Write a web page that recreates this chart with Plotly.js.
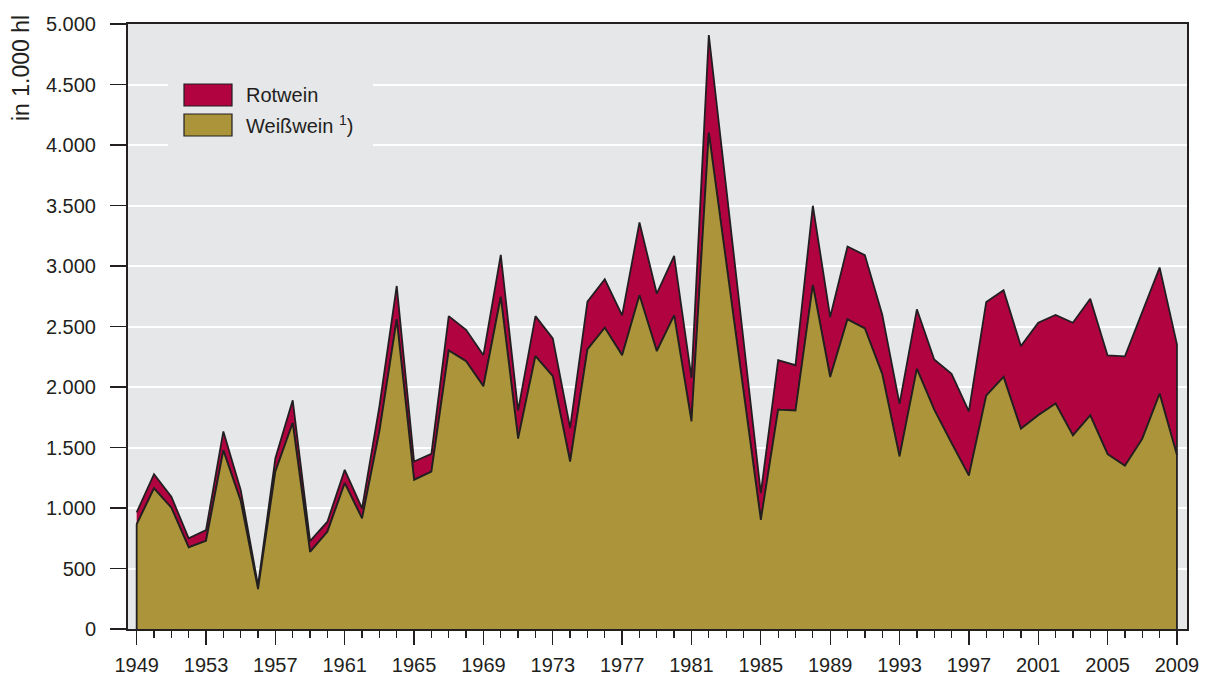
<!DOCTYPE html>
<html>
<head>
<meta charset="utf-8">
<script src="https://cdn.plot.ly/plotly-3.0.1.min.js"></script>
<style>html,body{margin:0;padding:0;background:#fff;}</style>
</head>
<body>
<div id="chart" style="width:1205px;height:677px;"></div>
<script>
// Years
const years = [1949,1950,1951,1952,1953,1954,1955,1956,1957,1958,1959,1960,1961,1962,1963,1964,1965,1966,1967,1968,1969,1970,1971,1972,1973,1974,1975,1976,1977,1978,1979,1980,1981,1982,1983,1984,1985,1986,1987,1988,1989,1990,1991,1992,1993,1994,1995,1996,1997,1998,1999,2000,2001,2002,2003,2004,2005,2006,2007,2008,2009];
// Weißwein (in 1.000 hl)
const weisswein = [865,1163,1003,674,729,1476,1058,330,1302,1702,638,804,1205,914,1633,2559,1233,1301,2302,2213,2006,2744,1573,2255,2089,1384,2310,2490,2263,2758,2296,2592,1716,4101,3030,1965,901,1813,1805,2843,2083,2559,2484,2108,1426,2150,1813,1536,1268,1929,2083,1655,1766,1863,1600,1766,1445,1350,1571,1944,1437];
// Rotwein (in 1.000 hl)
const rotwein = [99,116,91,75,89,157,92,30,110,188,89,83,111,83,207,276,151,147,284,260,257,348,232,331,313,277,395,400,329,602,475,492,359,807,620,425,221,409,375,655,495,602,606,492,434,492,414,572,531,774,717,683,765,732,931,964,816,903,1043,1043,915];
// Labels
const seriesNames = ["Rotwein", "Weißwein <sup>1</sup>)"];
const yTitle = "in 1.000 hl";

const colRot = "#b0033f";
const colWeiss = "#ab9439";
const colLine = "#231f20";
const bg = "#e6e7e9";

const total = weisswein.map((v, i) => v + rotwein[i]);

// Weißwein polygon (down to zero at both ends)
const wx = [years[0]].concat(years, [years[years.length - 1]]);
const wy = [0].concat(weisswein, [0]);
// Rotwein polygon (stacked on top of Weißwein)
const rx = years.concat(years.slice().reverse());
const ry = total.concat(weisswein.slice().reverse());

const traces = [
  {x: rx, y: ry, type: "scatter", mode: "lines", fill: "toself", fillcolor: colRot,
   line: {color: colLine, width: 1.8}, hoverinfo: "skip", showlegend: false, name: "Rotwein"},
  {x: wx, y: wy, type: "scatter", mode: "lines", fill: "toself", fillcolor: colWeiss,
   line: {color: colLine, width: 1.8}, hoverinfo: "skip", showlegend: false, name: "Weißwein"}
];

const L = 128, R = 1187, T = 24, B = 629;
const px = v => (v - L) / (R - L);
const py = v => (B - v) / (B - T);

const font = {family: "Liberation Sans, Arial, Helvetica, sans-serif", color: colLine};

const layout = {
  width: 1205, height: 677,
  margin: {l: L, r: 1205 - R, t: T, b: 677 - B, pad: 0},
  paper_bgcolor: "#ffffff",
  plot_bgcolor: bg,
  separators: ",.",
  showlegend: false,
  font: Object.assign({size: 20}, font),
  xaxis: {
    range: [1948.5, 2009.58],
    tickmode: "linear", tick0: 1949, dtick: 4,
    tickformat: "d",
    ticks: "outside", ticklen: 14, tickwidth: 1.3, tickcolor: colLine,
    minor: {ticks: "outside", dtick: 1, tick0: 1949, ticklen: 7, tickwidth: 1.3, tickcolor: colLine, showgrid: false},
    showgrid: false, zeroline: false,
    showline: true, linecolor: colLine, linewidth: 2, mirror: true,
    tickfont: Object.assign({size: 20}, font),
    ticklabelstandoff: 3,
    fixedrange: true
  },
  yaxis: {
    range: [0, 5000],
    tickmode: "linear", tick0: 0, dtick: 500,
    tickformat: ",.0f",
    ticks: "outside", ticklen: 16, tickwidth: 1.3, tickcolor: colLine,
    showgrid: true, gridcolor: "#ffffff", gridwidth: 2,
    zeroline: false,
    showline: true, linecolor: colLine, linewidth: 2, mirror: true,
    tickfont: Object.assign({size: 20}, font),
    ticklabelstandoff: 10,
    fixedrange: true
  },
  shapes: [
    {type: "rect", xref: "paper", yref: "paper", x0: px(168), x1: px(373), y0: py(150), y1: py(70),
     fillcolor: bg, line: {width: 0}, layer: "above"},
    {type: "rect", xref: "paper", yref: "paper", x0: px(184), x1: px(232), y0: py(106), y1: py(84),
     fillcolor: colRot, line: {color: colLine, width: 1.2}, layer: "above"},
    {type: "rect", xref: "paper", yref: "paper", x0: px(184), x1: px(232), y0: py(136), y1: py(114),
     fillcolor: colWeiss, line: {color: colLine, width: 1.2}, layer: "above"}
  ],
  annotations: [
    {xref: "paper", yref: "paper", x: px(244), y: py(95), xanchor: "left", yanchor: "middle",
     text: seriesNames[0], showarrow: false, font: Object.assign({size: 20}, font)},
    {xref: "paper", yref: "paper", x: px(244), y: py(125), xanchor: "left", yanchor: "middle",
     text: seriesNames[1], showarrow: false, font: Object.assign({size: 20}, font)},
    {xref: "paper", yref: "paper", x: px(21), y: py(13), xanchor: "center", yanchor: "top",
     text: yTitle, textangle: -90, showarrow: false, font: Object.assign({size: 23}, font)}
  ]
};

Plotly.newPlot("chart", traces, layout, {staticPlot: true, displayModeBar: false});
</script>
</body>
</html>
